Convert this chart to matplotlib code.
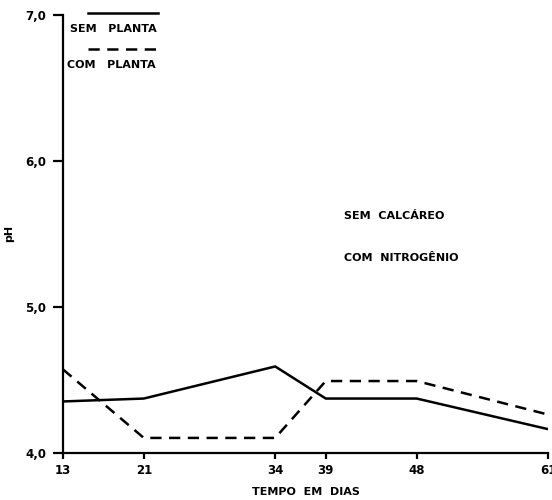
import matplotlib
matplotlib.use("Agg")
import matplotlib.pyplot as plt
from matplotlib.lines import Line2D

# Data
days = [13, 21, 34, 39, 48, 61]
day_labels = ["13", "21", "34", "39", "48", "61"]
sem_planta = [4.35, 4.37, 4.59, 4.37, 4.37, 4.16]
com_planta = [4.57, 4.10, 4.10, 4.49, 4.49, 4.26]
y_ticks = [4.0, 5.0, 6.0, 7.0]
y_labels = ["4,0", "5,0", "6,0", "7,0"]

plt.rcParams['font.family'] = ['DejaVu Sans']
fig = plt.figure(figsize=(5.52, 5.0), dpi=100)
ax = fig.add_axes([0.114, 0.095, 0.879, 0.875])

lw = 1.8
ax.plot(days, sem_planta, color="black", lw=lw, solid_joinstyle="miter")
ax.plot(days, com_planta, color="black", lw=lw, linestyle=(0, (4.5, 3)))

ax.set_xlim(13, 61)
ax.set_ylim(4.0, 7.0)
ax.set_xticks(days)
ax.set_xticklabels(day_labels)
ax.set_yticks(y_ticks)
ax.set_yticklabels(y_labels)

for s in ["top", "right"]:
    ax.spines[s].set_visible(False)
for s in ["left", "bottom"]:
    ax.spines[s].set_linewidth(1.6)

ax.tick_params(axis="y", direction="out", length=7, width=1.6, pad=5,
               labelsize=8.5)
ax.tick_params(axis="x", direction="out", length=4.5, width=1.6, pad=4,
               labelsize=8.5)
for lab in ax.get_xticklabels() + ax.get_yticklabels():
    lab.set_fontweight("bold")

ax.set_xlabel("TEMPO  EM  DIAS", fontsize=8, fontweight="bold", labelpad=7)
ax.set_ylabel("pH", fontsize=8, fontweight="bold", labelpad=8)

# Legend (manual, as in the original)
ax.add_line(Line2D([0.052, 0.196], [1.005, 1.005], transform=ax.transAxes,
                   color="black", lw=lw, clip_on=False))
ax.text(0.014, 0.968, "SEM   PLANTA", transform=ax.transAxes, fontsize=8,
        fontweight="bold", va="center", ha="left")
ax.add_line(Line2D([0.052, 0.196], [0.922, 0.922], transform=ax.transAxes,
                   color="black", lw=lw, linestyle=(0, (4.5, 3)), clip_on=False))
ax.text(0.008, 0.886, "COM   PLANTA", transform=ax.transAxes, fontsize=8,
        fontweight="bold", va="center", ha="left")

# Annotations
ax.text(0.58, 0.540, "SEM  CALCÁREO", transform=ax.transAxes, fontsize=8,
        fontweight="bold", va="center", ha="left")
ax.text(0.58, 0.444, "COM  NITROGÊNIO", transform=ax.transAxes, fontsize=8,
        fontweight="bold", va="center", ha="left")

fig.savefig("out.png", dpi=100)
